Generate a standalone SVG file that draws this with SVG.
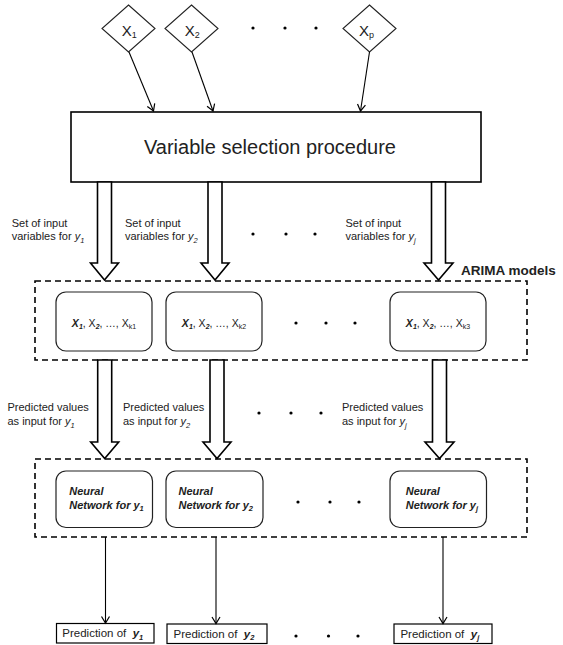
<svg xmlns="http://www.w3.org/2000/svg" width="563" height="645" viewBox="0 0 563 645">
<defs>
<marker id="open" markerWidth="12" markerHeight="12" refX="10" refY="6" orient="auto" markerUnits="userSpaceOnUse"><path d="M3.5,2 L10,6 L3.5,10" fill="none" stroke="#000" stroke-width="1.2"/></marker>
</defs>
<style>
text{font-family:"Liberation Sans",Arial,sans-serif;fill:#222}
.box{fill:#fff;stroke:#000;stroke-width:1.6}
.pbox{fill:#fff;stroke:#000;stroke-width:1.2}
.rbox{fill:#fff;stroke:#222;stroke-width:1.2}
.dia{fill:#fff;stroke:#222;stroke-width:1.1}
.dash{fill:none;stroke:#000;stroke-width:1.6;stroke-dasharray:6,4}
.hollow{fill:#fff;stroke:#000;stroke-width:1.6;stroke-linejoin:miter}
.thin{fill:none;stroke:#000;stroke-width:1.1;marker-end:url(#open)}
.lbl{font-size:11px}
.sub{font-size:7.5px}
.bi{font-weight:bold;font-style:italic}
.it{font-style:italic}
.nn{font-size:11px;font-weight:bold;font-style:italic}
.pt{font-size:11.5px}
.dot{fill:#000}
</style>

<g id="x1">
<polygon class="dia" points="128.5,5 155,28.5 128.5,52 102,28.5"/>
<text x="121.7" y="36" font-size="15">X<tspan font-size="9" dy="2">1</tspan></text>
</g>
<g id="x2">
<polygon class="dia" points="191.5,5 218,28.5 191.5,52 165,28.5"/>
<text x="184.7" y="36" font-size="15">X<tspan font-size="9" dy="2">2</tspan></text>
</g>
<g id="xp">
<polygon class="dia" points="369.5,5 396,28.5 369.5,52 343,28.5"/>
<text x="359" y="36" font-size="15">X<tspan font-size="9" dy="2">p</tspan></text>
</g>
<g id="dots-top">
<circle class="dot" cx="253" cy="28" r="1.6"/><circle class="dot" cx="285" cy="28" r="1.6"/><circle class="dot" cx="316" cy="28" r="1.6"/>
</g>

<g id="selection">
<rect class="box" x="71" y="112" width="410" height="70"/>
<text x="270" y="154" font-size="20" text-anchor="middle">Variable selection procedure</text>
</g>

<g id="labels-set">
<text class="lbl" x="11.7" y="227">Set of input</text>
<text class="lbl" x="11.7" y="240">variables for <tspan class="it">y</tspan><tspan class="it sub" dy="2.5">1</tspan></text>
<text class="lbl" x="125" y="227">Set of input</text>
<text class="lbl" x="125" y="240">variables for <tspan class="it">y</tspan><tspan class="it sub" dy="2.5">2</tspan></text>
<text class="lbl" x="345.5" y="227">Set of input</text>
<text class="lbl" x="345.5" y="240">variables for <tspan class="it">y</tspan><tspan class="it sub" dy="2.5">j</tspan></text>
<circle class="dot" cx="253" cy="234" r="1.6"/><circle class="dot" cx="286" cy="234" r="1.6"/><circle class="dot" cx="315" cy="234" r="1.6"/>
</g>

<g id="arima">
<rect class="dash" x="35" y="281" width="492" height="79"/>
<text x="461" y="275" font-size="13.5" font-weight="bold">ARIMA models</text>
</g>
<g id="arima1">
<rect class="rbox" x="56" y="292" width="96" height="59" rx="10"/>
<text x="104" y="327" font-size="10.5" text-anchor="middle"><tspan class="bi">X</tspan><tspan class="bi" font-size="7" dy="2">1</tspan><tspan dy="-2">, X</tspan><tspan class="bi" font-size="7" dy="2">2</tspan><tspan dy="-2">, …, X</tspan><tspan font-size="7" dy="2">k1</tspan></text>
</g>
<g id="arima2">
<rect class="rbox" x="166" y="292" width="96" height="59" rx="10"/>
<text x="214" y="327" font-size="10.5" text-anchor="middle"><tspan class="bi">X</tspan><tspan class="bi" font-size="7" dy="2">1</tspan><tspan dy="-2">, X</tspan><tspan class="bi" font-size="7" dy="2">2</tspan><tspan dy="-2">, …, X</tspan><tspan font-size="7" dy="2">k2</tspan></text>
</g>
<g id="arima3">
<rect class="rbox" x="390" y="292" width="96" height="59" rx="10"/>
<text x="438" y="327" font-size="10.5" text-anchor="middle"><tspan class="bi">X</tspan><tspan class="bi" font-size="7" dy="2">1</tspan><tspan dy="-2">, X</tspan><tspan class="bi" font-size="7" dy="2">2</tspan><tspan dy="-2">, …, X</tspan><tspan font-size="7" dy="2">k3</tspan></text>
</g>
<g id="dots-arima">
<circle class="dot" cx="296" cy="323" r="1.6"/><circle class="dot" cx="326" cy="323" r="1.6"/><circle class="dot" cx="355" cy="323" r="1.6"/>
</g>

<g id="labels-pred">
<text class="lbl" x="7.5" y="411">Predicted values</text>
<text class="lbl" x="7.5" y="425">as input for <tspan class="it">y</tspan><tspan class="it sub" dy="2.5">1</tspan></text>
<text class="lbl" x="123" y="411">Predicted values</text>
<text class="lbl" x="123" y="425">as input for <tspan class="it">y</tspan><tspan class="it sub" dy="2.5">2</tspan></text>
<text class="lbl" x="342" y="411">Predicted values</text>
<text class="lbl" x="342" y="425">as input for <tspan class="it">y</tspan><tspan class="it sub" dy="2.5">j</tspan></text>
<circle class="dot" cx="259" cy="413" r="1.6"/><circle class="dot" cx="291" cy="413" r="1.6"/><circle class="dot" cx="321" cy="413" r="1.6"/>
</g>

<g id="nn">
<rect class="dash" x="35" y="459" width="492" height="78"/>
</g>
<g id="nn1">
<rect class="rbox" x="56" y="471" width="96.5" height="56.5" rx="10"/>
<text class="nn" x="69.3" y="495">Neural</text>
<text class="nn" x="69.3" y="508.5">Network for y<tspan font-size="7.5" dy="2.5">1</tspan></text>
</g>
<g id="nn2">
<rect class="rbox" x="166" y="471" width="97" height="56.5" rx="10"/>
<text class="nn" x="178.5" y="495">Neural</text>
<text class="nn" x="178.5" y="508.5">Network for y<tspan font-size="7.5" dy="2.5">2</tspan></text>
</g>
<g id="nn3">
<rect class="rbox" x="390" y="471" width="96.5" height="56.5" rx="10"/>
<text class="nn" x="405.7" y="495">Neural</text>
<text class="nn" x="405.7" y="508.5">Network for y<tspan font-size="7.5" dy="2.5">j</tspan></text>
</g>
<g id="dots-nn">
<circle class="dot" cx="298" cy="502" r="1.6"/><circle class="dot" cx="330" cy="502" r="1.6"/><circle class="dot" cx="359" cy="502" r="1.6"/>
</g>

<g id="pred1">
<rect class="pbox" x="56.5" y="623.5" width="97.5" height="19.5"/>
<text class="pt" x="62.3" y="637" xml:space="preserve">Prediction of  <tspan class="bi">y</tspan><tspan class="bi sub" dy="2.5">1</tspan></text>
</g>
<g id="pred2">
<rect class="pbox" x="167" y="624" width="100" height="19.5"/>
<text class="pt" x="173.5" y="637.5" xml:space="preserve">Prediction of  <tspan class="bi">y</tspan><tspan class="bi sub" dy="2.5">2</tspan></text>
</g>
<g id="pred3">
<rect class="pbox" x="394" y="624" width="98" height="19.5"/>
<text class="pt" x="400.4" y="637.5" xml:space="preserve">Prediction of  <tspan class="bi">y</tspan><tspan class="bi sub" dy="2.5">j</tspan></text>
</g>
<g id="dots-bottom">
<circle class="dot" cx="296" cy="636" r="1.6"/><circle class="dot" cx="328.5" cy="636" r="1.6"/><circle class="dot" cx="358" cy="636" r="1.6"/>
</g>

<g id="connectors">
<line class="thin" x1="129" y1="52" x2="153.5" y2="111"/>
<line class="thin" x1="192" y1="52" x2="213" y2="111"/>
<line class="thin" x1="369.5" y1="52" x2="360.5" y2="111"/>
<path class="hollow" d="M97.5,182 V263 H90.5 L104.5,280 L118.5,263 H111.5 V182 Z"/>
<path class="hollow" d="M208,182 V263 H201 L215,280 L229,263 H222 V182 Z"/>
<path class="hollow" d="M431.5,182 V263 H424 L438.5,280 L453,263 H445.5 V182 Z"/>
<path class="hollow" d="M97.7,360 V442 H90.7 L104.7,458.5 L118.7,442 H111.7 V360 Z"/>
<path class="hollow" d="M210,360 V442 H203 L217,458.5 L231,442 H224 V360 Z"/>
<path class="hollow" d="M432.5,360 V442 H425 L439.5,458.5 L454,442 H446.5 V360 Z"/>
<line class="thin" x1="105.5" y1="537" x2="105.5" y2="623"/>
<line class="thin" x1="216" y1="537" x2="216" y2="623.5"/>
<line class="thin" x1="443" y1="537" x2="443" y2="623.5"/>
</g>
</svg>
